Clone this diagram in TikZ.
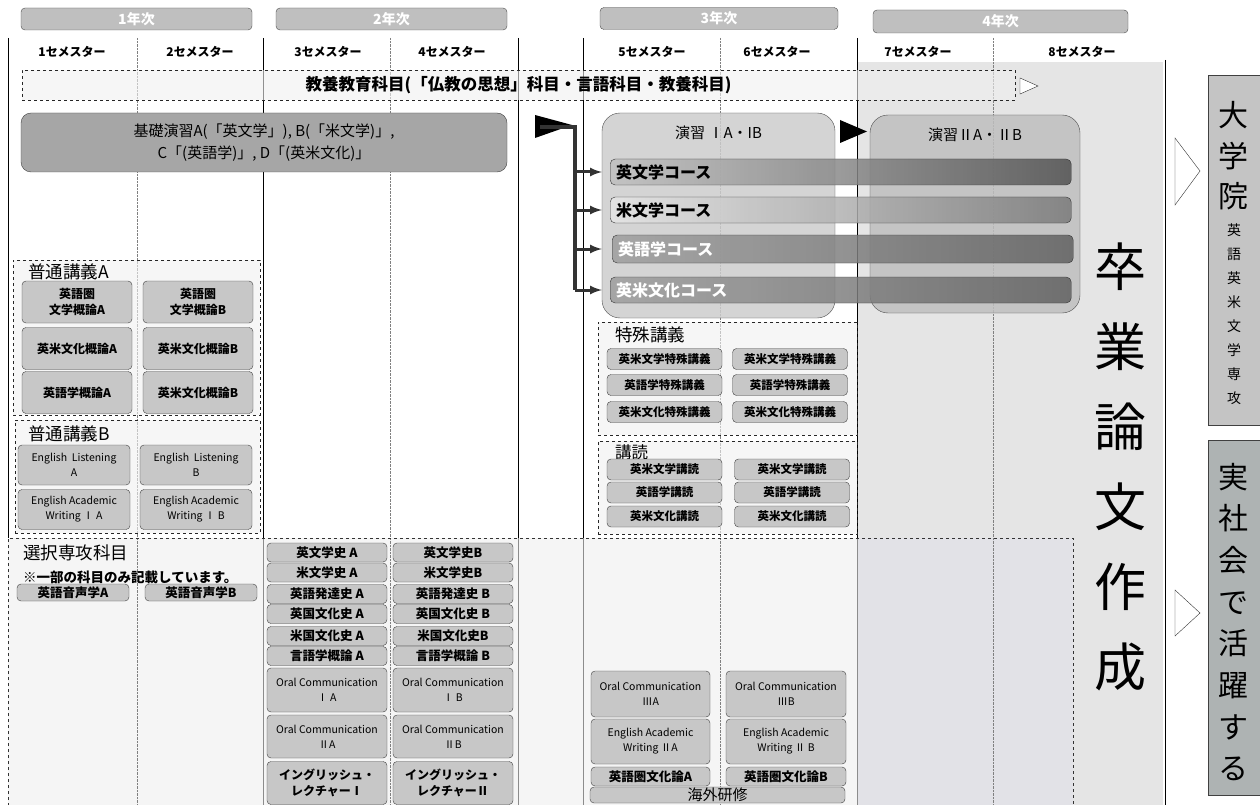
\documentclass[tikz,border=0pt]{standalone}
\usepackage{fontspec}
\setmainfont{Noto Sans CJK JP}
\usetikzlibrary{positioning}
\definecolor{workgray}{HTML}{AEB3B3}
\definecolor{lowgray}{HTML}{E2E2E7}

\begin{document}
\begin{tikzpicture}[x=1pt, y=-1pt]

\tikzstyle{yearbox}=[draw=black!70, fill=black!25, rounded corners=4pt, text=white, inner sep=0pt, minimum height=22pt, font=\bfseries\fontsize{14}{14}\selectfont]
\tikzstyle{semlabel}=[font=\bfseries\fontsize{12}{12}\selectfont]
\tikzstyle{region}=[draw=black!85, dashed, fill=black!6, fill opacity=0.6, text opacity=1, inner sep=0pt]
\tikzstyle{grouplabel}=[anchor=west, inner sep=0pt, font=\fontsize{17.5}{17.5}\selectfont]
\tikzstyle{subj}=[draw=black!75, fill=black!22, rounded corners=4pt, inner sep=0pt, align=center, font=\bfseries\fontsize{12}{16}\selectfont]
\tikzstyle{engsubj}=[subj, font=\fontsize{10.5}{15}\selectfont]
\tikzstyle{ga}=[subj, minimum width=110pt, minimum height=42pt]
\tikzstyle{gb}=[engsubj, minimum width=112pt, minimum height=40pt]
\tikzstyle{hist}=[subj, minimum width=120pt, minimum height=19pt, font=\bfseries\fontsize{12.5}{12.5}\selectfont]
\tikzstyle{oc}=[engsubj, minimum width=120pt, minimum height=44pt, font=\fontsize{10.5}{15}\selectfont]
\tikzstyle{spec}=[subj, minimum width=115pt, minimum height=21pt, font=\bfseries\fontsize{11.5}{11.5}\selectfont]
\tikzstyle{seminar}=[draw=black!70, rounded corners=18pt, fill opacity=0.85, text opacity=1]
\tikzstyle{course}=[draw=black!80, rounded corners=5pt, anchor=west, text width=449pt, inner xsep=6pt, inner ysep=0pt, minimum height=26pt, align=left, fill opacity=0.85, text opacity=1, font=\bfseries\fontsize{16}{16}\selectfont]
\tikzstyle{exitbox}=[draw=black!75, inner sep=0pt, minimum width=57pt]
\tikzstyle{vtext}=[align=center, inner sep=0pt]

\useasboundingbox (0,0) rectangle (1260,805);

% backgrounds
\fill[black!10] (857,62) rectangle (1163,805);
\fill[black!4] (8,538) rectangle (857,805);
\fill[lowgray] (857,538) rectangle (1073,805);

% semester grid
\draw[black!45, line width=1pt] (263,538) -- (263,805) (518,538) -- (518,805) (583,538) -- (583,805) (857,538) -- (857,805);
\draw[line width=1pt] (8,38) -- (8,538) (263,38) -- (263,538) (518,38) -- (518,538) (583,38) -- (583,538) (857,38) -- (857,538) (1165,60) -- (1165,805);
\draw[black!50, densely dotted] (137,38) -- (137,805) (390,38) -- (390,805) (720,38) -- (720,805) (993,38) -- (993,805);

% years and semesters
\node[yearbox, minimum width=231pt] (y1) at (136.5,19) {1年次};
\node[yearbox, minimum width=231pt] (y2) at (391.5,19) {2年次};
\node[yearbox, minimum width=238pt] (y3) at (719,18.5) {3年次};
\node[yearbox, minimum width=255pt, minimum height=23pt] (y4) at (1000.5,21.5) {4年次};

\node[semlabel] (s1) at (72,52) {1セメスター};
\node[semlabel] (s2) at (200,52) {2セメスター};
\node[semlabel] (s3) at (328,52) {3セメスター};
\node[semlabel] (s4) at (452,52) {4セメスター};
\node[semlabel] (s5) at (652,52) {5セメスター};
\node[semlabel] (s6) at (777,52) {6セメスター};
\node[semlabel] (s7) at (918,52) {7セメスター};
\node[semlabel] (s8) at (1082,52) {8セメスター};

% general education
\node[region, minimum width=993pt, minimum height=30pt, font=\bfseries\fontsize{16.5}{16.5}\selectfont] (kyoyo) at (518.5,85) {教養教育科目(「仏教の思想」科目・言語科目・教養科目)};
\draw[black!80, fill=white] (1020,78) -- (1038,86) -- (1020,94) -- cycle;

\node[draw=black!75, fill=black!35, rounded corners=10pt, minimum width=486pt, minimum height=59pt, align=center, font=\fontsize{15}{22}\selectfont] (kiso) at (264,142.5) {基礎演習A(「英文学」), B(「米文学)」,\\C「(英語学)」, D「(英米文化)」};

% lectures A and B
\node[region, minimum width=247pt, minimum height=155pt] (futsuA) at (136.5,337.5) {};
\node[grouplabel] (labA) at (28,272) {普通講義A};
\node[ga] (fa1) at (77,302) {英語圏\\文学概論A};
\node[ga] (fa2) at (198,302) {英語圏\\文学概論B};
\node[ga] (fa3) at (77,348.5) {英米文化概論A};
\node[ga] (fa4) at (198,348.5) {英米文化概論B};
\node[ga] (fa5) at (77,392.5) {英語学概論A};
\node[ga] (fa6) at (198,392.5) {英米文化概論B};

\node[region, minimum width=245pt, minimum height=113pt] (futsuB) at (137.5,476.5) {};
\node[grouplabel] (labB) at (28,434) {普通講義B};
\node[gb] (fb1) at (74,465) {English\ \ Listening\\A};
\node[gb] (fb2) at (196,465) {English\ \ Listening\\B};
\node[gb] (fb3) at (74,509.5) {English Academic\\Writing Ⅰ A};
\node[gb] (fb4) at (196,509.5) {English Academic\\Writing Ⅰ B};

% elective major subjects
\draw[black!80, dashed] (8,812) -- (8,538) -- (1073,538) -- (1073,812);
\node[grouplabel] (senkou) at (23,553) {選択専攻科目};
\node[grouplabel, font=\bfseries\fontsize{13.5}{13.5}\selectfont] (note) at (23,577) {※一部の科目のみ記載しています。};
\node[hist, minimum width=112pt, minimum height=17pt] (ph1) at (73,592.5) {英語音声学A};
\node[hist, minimum width=112pt, minimum height=17pt] (ph2) at (201,592.5) {英語音声学B};

\node[hist] (h1a) at (327,552.5) {英文学史 A};
\node[hist] (h1b) at (453,552.5) {英文学史B};
\node[hist] (h2a) at (327,572.5) {米文学史 A};
\node[hist] (h2b) at (453,572.5) {米文学史B};
\node[hist] (h3a) at (327,594) {英語発達史 A};
\node[hist] (h3b) at (453,594) {英語発達史 B};
\node[hist] (h4a) at (327,614) {英国文化史 A};
\node[hist] (h4b) at (453,614) {英国文化史 B};
\node[hist] (h5a) at (327,636) {米国文化史 A};
\node[hist] (h5b) at (453,636) {米国文化史B};
\node[hist] (h6a) at (327,656) {言語学概論 A};
\node[hist] (h6b) at (453,656) {言語学概論 B};
\node[oc] (oc1a) at (327,690) {Oral Communication\\Ⅰ A};
\node[oc] (oc1b) at (453,690) {Oral Communication\\Ⅰ B};
\node[oc, minimum height=43pt] (oc2a) at (327,736.5) {Oral Communication\\ⅡA};
\node[oc, minimum height=43pt] (oc2b) at (453,736.5) {Oral Communication\\ⅡB};
\node[ga, minimum width=120pt, minimum height=43pt] (lec1) at (327,783) {イングリッシュ・\\レクチャーⅠ};
\node[ga, minimum width=120pt, minimum height=43pt] (lec2) at (453,783) {イングリッシュ・\\レクチャーⅡ};

\node[oc, minimum width=119pt, minimum height=46pt] (oc3a) at (650.5,694) {Oral Communication\\ⅢA};
\node[oc, minimum height=46pt] (oc3b) at (786,694) {Oral Communication\\ⅢB};
\node[oc, minimum width=119pt, minimum height=45pt] (eaw2a) at (650.5,741.5) {English Academic\\Writing ⅡA};
\node[oc, minimum height=45pt] (eaw2b) at (786,741.5) {English Academic\\Writing Ⅱ B};
\node[hist, minimum width=119pt] (ck1) at (650.5,776.5) {英語圏文化論A};
\node[hist] (ck2) at (786,776.5) {英語圏文化論B};
\node[subj, minimum width=255pt, minimum height=16pt, font=\fontsize{15}{15}\selectfont] (abroad) at (717.5,795) {海外研修};

% seminars and courses
\node[seminar, fill=black!20, minimum width=233pt, minimum height=205pt] (ens1) at (718.5,215.5) {};
\node[seminar, fill=black!25, minimum width=210pt, minimum height=198pt] (ens2) at (975,214) {};
\node[font=\fontsize{15}{15}\selectfont] (ens1lab) [below=10pt of ens1.north] {演習 ⅠA・IB};
\node[font=\fontsize{15}{15}\selectfont] (ens2lab) [below=10pt of ens2.north] {演習ⅡA・ⅡB};
\fill[black] (840,120) -- (867,131.5) -- (840,143) -- cycle;

\node[course, left color=black!25, right color=black!68] (c1) at (610,172) {英文学コース};
\node[course, left color=black!10, right color=black!52] (c2) at (610,210) {米文学コース};
\node[course, left color=black!38, right color=black!62, text=white, minimum height=28pt] (c3) at (612,249) {英語学コース};
\node[course, left color=black!38, right color=black!62, text=white] (c4) at (610,290) {英米文化コース};

\coordinate (fork) at (575,127);
\coordinate (br1) at (575,172);
\coordinate (br2) at (575,210);
\coordinate (br3) at (575,249);
\coordinate (br4) at (575,290);
\fill[black] (535,115) -- (572,125) -- (535,138) -- cycle;
\draw[black!80, line width=4pt] (540,127) -- (fork) -- (br4);
\draw[black!80, line width=3pt, >=latex]
(br1) edge[->] (br1 -| ens1.west)
(br2) edge[->] (br2 -| ens1.west)
(br3) edge[->] (br3 -| ens1.west)
(br4) edge[->] (br4 -| ens1.west);

% special lectures and readings
\node[region, minimum width=259pt, minimum height=113pt] (tokushu) at (727.5,378.5) {};
\node[grouplabel] (labT) at (615,335) {特殊講義};
\node[spec] (t1a) at (664.5,359) {英米文学特殊講義};
\node[spec] (t1b) at (790,359) {英米文学特殊講義};
\node[spec] (t2a) at (664.5,385) {英語学特殊講義};
\node[spec] (t2b) at (790,385) {英語学特殊講義};
\node[spec] (t3a) at (664.5,412) {英米文化特殊講義};
\node[spec] (t3b) at (790,412) {英米文化特殊講義};

\node[region, minimum width=259pt, minimum height=93pt] (kodoku) at (727.5,487.5) {};
\node[grouplabel, font=\fontsize{16.5}{16.5}\selectfont] (labK) at (615,452) {講読};
\node[spec] (k1a) at (664.5,469.5) {英米文学講読};
\node[spec] (k1b) at (792,469.5) {英米文学講読};
\node[spec] (k2a) at (664.5,492.5) {英語学講読};
\node[spec] (k2b) at (792,492.5) {英語学講読};
\node[spec] (k3a) at (664.5,516.5) {英米文化講読};
\node[spec] (k3b) at (792,516.5) {英米文化講読};

% thesis and after graduation
\node[vtext, font=\fontsize{52}{80}\selectfont] (thesis) at (1120,467) {卒\\業\\論\\文\\作\\成};

\node[exitbox, fill=black!23, minimum height=350pt] (grad) at (1236.5,250) {};
\node[vtext, font=\fontsize{30}{40.5}\selectfont] (gradtxt) at (1233,156) {大\\学\\院};
\node[vtext, font=\fontsize{14}{24}\selectfont] (gradsub) at (1234,314) {英\\語\\英\\米\\文\\学\\専\\攻};
\node[exitbox, fill=workgray, minimum height=355pt] (work) at (1236.5,617.5) {};
\node[vtext, font=\fontsize{30}{41.7}\selectfont] (worktxt) at (1233,622) {実\\社\\会\\で\\活\\躍\\す\\る};

\draw[black!80, fill=white] (1175,138) -- (1200,171) -- (1175,205) -- cycle;
\draw[black!80, fill=white] (1175,590) -- (1200,613) -- (1175,636) -- cycle;

\end{tikzpicture}
\end{document}
